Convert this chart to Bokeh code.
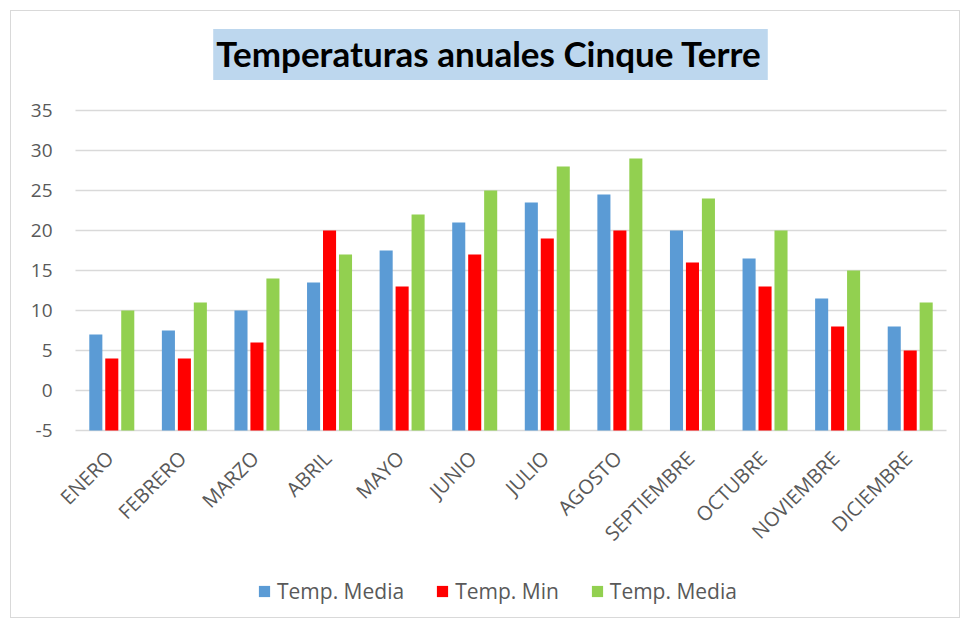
import math
from bokeh.plotting import figure
from bokeh.models import ColumnDataSource, Legend, LegendItem, Label
from bokeh.transform import dodge
from bokeh.core.properties import value
from bokeh.embed import file_html
from bokeh.resources import INLINE

months = ["ENERO", "FEBRERO", "MARZO", "ABRIL", "MAYO", "JUNIO", "JULIO",
          "AGOSTO", "SEPTIEMBRE", "OCTUBRE", "NOVIEMBRE", "DICIEMBRE"]
temp_media = [7, 7.5, 10, 13.5, 17.5, 21, 23.5, 24.5, 20, 16.5, 11.5, 8]
temp_min = [4, 4, 6, 20, 13, 17, 19, 20, 16, 13, 8, 5]
temp_max = [10, 11, 14, 17, 22, 25, 28, 29, 24, 20, 15, 11]
series_labels = ["Temp. Media", "Temp. Min", "Temp. Media"]
y_ticks = [-5, 0, 5, 10, 15, 20, 25, 30, 35]
title_text = "Temperaturas anuales Cinque Terre"
colors = ["#5B9BD5", "#FF0000", "#92D050"]

# layout (pixels)
W, H = 948, 606
PLOT_LEFT, PLOT_RIGHT = 64, 13
PX_PER_CAT = (W - PLOT_LEFT - PLOT_RIGHT) / len(months)
PX_PER_UNIT = 8
TOP_SPACE, BOTTOM_SPACE = 99, 187
y_min, y_max = y_ticks[0], y_ticks[-1]
y_lo = y_min - BOTTOM_SPACE / PX_PER_UNIT
y_hi = y_max + TOP_SPACE / PX_PER_UNIT
x_lo = -PLOT_LEFT / PX_PER_CAT
x_hi = len(months) + PLOT_RIGHT / PX_PER_CAT

n = len(months)
src = ColumnDataSource(dict(m=months, x=[i + 0.5 for i in range(n)],
                            a=temp_media, b=temp_min, c=temp_max, base=[y_min] * n))

p = figure(x_range=(x_lo, x_hi), y_range=(y_lo, y_hi),
           frame_width=W, frame_height=H,
           output_backend="svg", toolbar_location=None, title_location=None,
           x_axis_location=None, y_axis_location=None, min_border=0)
p.styles = {"border": "1px solid #D9D9D9", "margin-left": "10px", "margin-top": "10px"}
p.outline_line_color = None
p.grid.visible = False

# horizontal gridlines and value labels
grid_src = ColumnDataSource(dict(y=y_ticks, x0=[0] * len(y_ticks), x1=[n] * len(y_ticks),
                                 lab=[str(t) for t in y_ticks]))
p.segment(x0="x0", y0="y", x1="x1", y1="y", source=grid_src,
          line_color="#D9D9D9", line_width=1.5)
p.text(x="x0", y="y", text="lab", source=grid_src, x_offset=-23,
       text_align="right", text_baseline="middle",
       text_font=value("Open Sans"), text_font_size="19px", text_color="#595959")

rs = []
for key, off, col in zip(["a", "b", "c"], [-0.22, 0.0, 0.22], colors):
    r = p.vbar(x=dodge("x", off), top=key, bottom="base", width=0.18, source=src,
               fill_color=col, line_color=None)
    rs.append(r)

# month labels, rotated like a category axis
p.text(x="x", y="base", text="m", source=src, angle=math.pi / 4,
       text_align="right", text_baseline="middle", x_offset=-2, y_offset=24,
       text_font=value("Open Sans"), text_font_size="20px", text_color="#595959")

# title box
p.add_layout(Label(x=(490 - 75) / PX_PER_CAT, y=y_max + (110 - 54) / PX_PER_UNIT,
                   text=title_text, text_align="center",
                   text_baseline="middle", text_font="Lato", text_font_size="35px",
                   text_font_style="bold", text_color="#000000",
                   background_fill_color="#BDD7EE", padding=(3, 6, 3, 6)))

items = [LegendItem(label=lab, renderers=[r]) for lab, r in zip(series_labels, rs)]
legend = Legend(items=items, orientation="horizontal", location=(246, 12),
                label_text_font="Open Sans", label_text_font_size="21px",
                label_text_color="#595959", glyph_width=14, glyph_height=14,
                spacing=31, label_standoff=6, border_line_color=None,
                background_fill_alpha=0, padding=0, margin=0)
p.add_layout(legend, "center")

open("out.html", "w").write(file_html(p, INLINE))
